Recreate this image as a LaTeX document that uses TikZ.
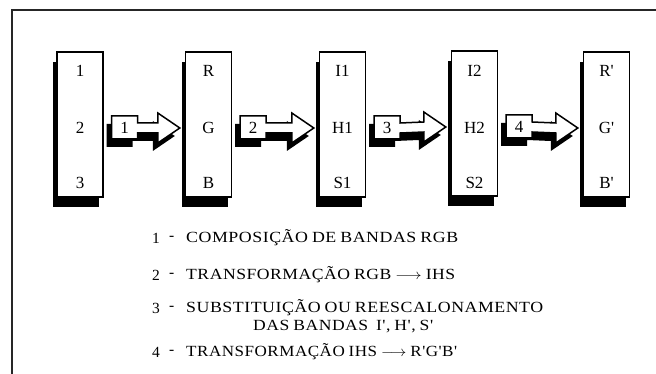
\documentclass[tikz,border=0pt]{standalone}
\usepackage{fontspec}
\usepackage{graphicx}
\setmainfont[Ligatures=TeXOff]{Liberation Serif}
\newfontfamily\legendfont[Ligatures=TeXOff,LetterSpace=3,WordSpace=0.8]{Liberation Serif}
\usetikzlibrary{calc,shadows}
\newcommand\fitw[2]{\resizebox{#1}{\height}{#2}}
\newcommand\arrowshape[1]{($(s#1)+(0,-12)$) -- ($(s#1)+(26,-12)$) -- ($(s#1)+(26,-5)$) -- ($(h#1)+(0,-5)$) -- ($(h#1)+(0,-15)$) -- (t#1) -- ($(h#1)+(0,15)$) -- ($(h#1)+(0,5)$) -- ($(s#1)+(26,5)$) -- ($(s#1)+(26,11)$) -- ($(s#1)+(0,11)$) -- cycle}
\newcommand\blockarrow[3]{%
  \coordinate (s#3) at ($(#1.east)+(8,3.5)$);
  \coordinate (t#3) at ($(#2.west)+(-5,3.5)$);
  \coordinate (h#3) at ($(t#3)+(-22,0)$);
  \fill[black, transform canvas={shift={(-5pt,-8pt)}}] \arrowshape{#3};
  \draw[line width=1.5pt, fill=white, line join=miter] \arrowshape{#3};
  \node[lbl] (n#3) at ($(s#3)+(13,-0.5)$) {#3};
}
\begin{document}
\begin{tikzpicture}[x=1pt,y=-1pt,
  band/.style={draw, line width=1.4pt, fill=white, minimum width=46pt, minimum height=145pt, inner sep=0pt,
    drop shadow={shadow xshift=-4pt, shadow yshift=-10pt, fill=black, opacity=1}},
  lbl/.style={font=\fontsize{17}{17}\selectfont, inner sep=0pt},
  leg/.style={font=\legendfont\fontsize{15.5}{15.5}\selectfont, inner sep=0pt, anchor=west},
  frame/.style={line width=1.8pt, draw=black!85}]
\useasboundingbox (0,0) rectangle (656,374);
\draw[frame] (12,374) -- (12,10) -- (656,10);

\node[band] (b1) at (80,124.5) {};
\node[band] (b2) at (208.5,124.5) {};
\node[band] (b3) at (342.5,124.5) {};
\node[band] (b4) at (474.5,123.5) {};
\node[band] (b5) at (606.5,124.5) {};

\node[lbl] (b1a) at ($(b1.center)+(0,-54)$) {1};
\node[lbl] (b1b) at ($(b1.center)+(0,3)$) {2};
\node[lbl] (b1c) at ($(b1.center)+(0,58)$) {3};
\node[lbl] (b2a) at ($(b2.center)+(0,-54)$) {R};
\node[lbl] (b2b) at ($(b2.center)+(0,3)$) {G};
\node[lbl] (b2c) at ($(b2.center)+(0,58)$) {B};
\node[lbl] (b3a) at ($(b3.center)+(0,-54)$) {I1};
\node[lbl] (b3b) at ($(b3.center)+(0,3)$) {H1};
\node[lbl] (b3c) at ($(b3.center)+(0,58)$) {S1};
\node[lbl] (b4a) at ($(b4.center)+(0,-53)$) {I2};
\node[lbl] (b4b) at ($(b4.center)+(0,4)$) {H2};
\node[lbl] (b4c) at ($(b4.center)+(0,59)$) {S2};
\node[lbl] (b5a) at ($(b5.center)+(0,-54)$) {R'};
\node[lbl] (b5b) at ($(b5.center)+(0,3)$) {G'};
\node[lbl] (b5c) at ($(b5.center)+(0,58)$) {B'};

\blockarrow{b1}{b2}{1}
\blockarrow{b2}{b3}{2}
\blockarrow{b3}{b4}{3}
\blockarrow{b4}{b5}{4}

\node[leg] (l1n) at (152,238) {1};
\node[leg] (l1d) at (169,238) {-};
\node[leg] (l1t) at (186,238) {\fitw{272pt}{COMPOSIÇÃO DE BANDAS RGB}};
\node[leg] (l2n) at (152,275) {2};
\node[leg] (l2d) at (169,275) {-};
\node[leg] (l2t) at (186,275) {\fitw{269pt}{TRANSFORMAÇÃO RGB $\longrightarrow$ IHS}};
\node[leg] (l3n) at (152,308) {3};
\node[leg] (l3d) at (169,308) {-};
\node[leg] (l3t) at (186,308) {\fitw{357pt}{SUBSTITUIÇÃO OU REESCALONAMENTO}};
\node[leg] (l3u) at (253,327) {\fitw{180pt}{DAS BANDAS\ \ I', H', S'}};
\node[leg] (l4n) at (152,352) {4};
\node[leg] (l4d) at (169,352) {-};
\node[leg] (l4t) at (186,352) {\fitw{271pt}{TRANSFORMAÇÃO IHS $\longrightarrow$ R'G'B'}};
\end{tikzpicture}
\end{document}
